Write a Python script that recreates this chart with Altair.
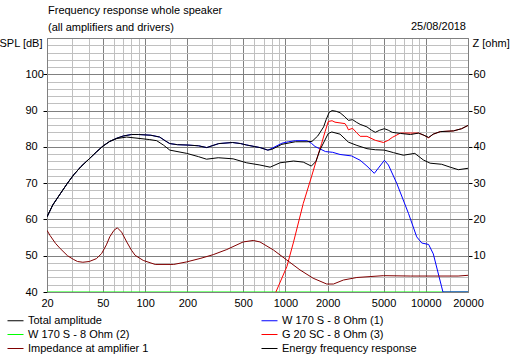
import altair as alt
import pandas as pd

# ---------------- data ----------------
# legend is filled column by column: column 1 then column 2
names = ["Total amplitude", "W 170 S - 8 Ohm (2)", "Impedance at amplifier 1",
         "W 170 S - 8 Ohm (1)", "G 20 SC - 8 Ohm (3)", "Energy frequency response"]
colors = ["#000000", "#00ff00", "#800000", "#0000ff", "#ff0000", "#000000"]

title_lines = ["Frequency response whole speaker", "(all amplifiers and drivers)"]
date_text = "25/08/2018"

grid_freqs = [20, 30, 40, 50, 60, 70, 80, 90, 100, 150, 200, 300, 400, 500, 600, 700, 800, 900,
              1000, 1500, 2000, 3000, 4000, 5000, 6000, 7000, 8000, 9000, 10000, 15000, 20000]
label_freqs = [20, 50, 100, 200, 500, 1000, 2000, 5000, 10000, 20000]
spl_grid = list(range(40, 112, 2))
z_ticks = [10, 20, 30, 40, 50, 60]

total_f = [20, 22, 25, 28, 31, 35, 40, 45, 50, 56, 63, 70, 80, 90, 100, 110, 127, 140, 150, 170,
           200, 240, 275, 300, 335, 420, 480, 530, 600, 660, 750, 800, 944, 1178, 1424, 1546, 1700,
           1872, 1950, 2050, 2150, 2300, 2450, 2650, 2810, 3010, 3200, 3410, 3810, 4100, 4370, 4700,
           5070, 5400, 5770, 6600, 7790, 8900, 9700, 10480, 11300, 12700, 15760, 18000, 20000]
total_db = [60.7, 64.0, 67.2, 70.0, 72.3, 74.6, 76.7, 78.6, 80.2, 81.5, 82.4, 83.0, 83.4, 83.4, 83.3,
            83.2, 82.7, 81.6, 80.9, 80.6, 80.5, 80.3, 79.8, 80.3, 80.9, 81.2, 80.9, 80.5, 80.1, 79.8,
            79.1, 79.3, 80.7, 81.4, 81.4, 81.5, 83.0, 85.5, 87.5, 89.5, 90.0, 89.8, 89.4, 88.3, 87.3,
            87.5, 86.8, 86.2, 85.5, 84.6, 84.0, 84.6, 85.0, 84.6, 84.0, 83.7, 83.4, 83.8, 83.2, 82.6,
            83.5, 84.2, 84.4, 85.0, 85.9]

energy_f = [20, 22, 25, 28, 31, 35, 40, 45, 50, 56, 63, 74, 92, 108, 121, 135, 150, 198, 240, 274,
            332, 424, 530, 658, 778, 914, 1143, 1340, 1530, 1650, 1760, 2020, 2140, 2450, 2810, 3230,
            3810, 4370, 5070, 5900, 6920, 8360, 9600, 10740, 12980, 14940, 17070, 20000]
energy_db = [60.7, 64.0, 67.2, 70.0, 72.3, 74.6, 76.7, 78.6, 80.2, 81.5, 82.3, 82.7, 82.3, 82.0,
             81.7, 80.5, 79.1, 78.2, 77.3, 76.6, 77.0, 76.7, 75.6, 75.0, 74.4, 75.6, 76.1, 75.8,
             74.7, 76.0, 79.1, 83.7, 84.1, 83.5, 81.3, 80.4, 79.5, 79.2, 79.1, 78.4, 77.7, 78.2,
             76.4, 75.5, 75.2, 74.4, 73.7, 74.1]

woofer1_f = [20, 22, 25, 28, 31, 35, 40, 45, 50, 56, 63, 70, 80, 90, 100, 110, 127, 140, 150, 170,
             200, 240, 275, 300, 335, 420, 480, 530, 600, 660, 750, 802, 944, 1050, 1178, 1424, 1530,
             1626, 1930, 2170, 2450, 2960, 3410, 3810, 4300, 5074, 5420, 6220, 7540, 8620, 9360,
             10480, 11320, 12980, 13260, 20000]
woofer1_db = [60.7, 64.0, 67.2, 70.0, 72.3, 74.6, 76.7, 78.6, 80.2, 81.5, 82.4, 83.0, 83.4, 83.4,
              83.3, 83.2, 82.7, 81.6, 80.9, 80.6, 80.5, 80.3, 79.8, 80.3, 80.9, 81.2, 80.9, 80.5,
              80.1, 79.8, 79.1, 79.6, 81.0, 81.4, 81.7, 81.7, 81.0, 80.1, 78.7, 78.5, 77.9, 77.5,
              76.3, 74.7, 72.7, 76.3, 75.0, 69.9, 61.6, 55.2, 53.5, 53.1, 50.5, 41.4, 40.0, 40.0]

woofer2_f = [20, 20000]
woofer2_db = [40.0, 40.0]

tweeter_f = [855, 1024, 1143, 1340, 1532, 1662, 1810, 1920, 2020, 2150, 2256, 2660, 2750, 2810,
             3010, 3200, 3410, 3810, 4370, 5000, 5400, 5770, 6600, 7790, 8900, 9700, 10480, 11300,
             12700, 15760, 18000, 20000]
tweeter_db = [40.0, 47.0, 53.8, 64.4, 71.7, 76.3, 80.9, 84.3, 87.0, 87.2, 86.8, 86.4, 85.5, 84.7,
              85.1, 84.0, 82.9, 82.9, 81.8, 81.2, 81.8, 82.6, 83.8, 83.8, 83.8, 83.2, 82.5, 83.5,
              84.2, 84.4, 85.0, 85.9]

imp_f = [20, 21, 23, 24.8, 28, 30.8, 33, 36, 40, 45, 49, 53, 56, 60, 63.4, 68, 74, 80, 85, 97, 118,
         160, 198, 250, 306, 382, 500, 590, 658, 820, 1024, 1268, 1575, 1970, 2200, 2590, 3230,
         5000, 7800, 17000, 20000]
imp_ohm = [17.0, 15.6, 13.4, 12.0, 10.0, 9.0, 8.4, 8.2, 8.4, 9.2, 10.6, 13.0, 15.2, 17.0, 17.7,
           16.5, 13.8, 11.5, 10.1, 8.7, 7.6, 7.6, 8.3, 9.3, 10.3, 11.7, 13.8, 14.2, 13.8, 11.6, 8.8,
           6.1, 3.8, 2.2, 2.2, 3.3, 4.0, 4.5, 4.4, 4.4, 4.6]


def frame(fs, vs, name):
    return pd.DataFrame({"f": fs, "v": vs, "series": name})


# ---------------- encodings ----------------
FONT = "Liberation Sans"
DARK = "#808080"
LIGHT = "#c0c0c0"

major_x = "indexof([50,100,200,500,1000,2000,5000,10000], datum.value) >= 0"
label_x = "indexof([20,50,100,200,500,1000,2000,5000,10000,20000], datum.value) >= 0"

x_axis = alt.Axis(values=grid_freqs, grid=True,
                  gridColor={"condition": {"test": major_x, "value": DARK}, "value": LIGHT},
                  labelExpr=label_x + " ? '' + datum.value : ''",
                  ticks=False, tickSize=0, labelPadding=5, labelOverlap=False,
                  labelFlush=False, title=None, domainColor=DARK)
x_enc = alt.X("f:Q", scale=alt.Scale(type="log", domain=[20, 20000], nice=False), axis=x_axis)

y_major = "datum.value % 10 == 0"
y_label = "datum.value % 10 == 0 && datum.value <= 100"
y_axis = alt.Axis(values=spl_grid, grid=True,
                  gridColor={"condition": {"test": y_major, "value": DARK}, "value": LIGHT},
                  labelExpr=y_label + " ? datum.label : ''",
                  tickOpacity={"condition": {"test": y_label, "value": 1}, "value": 0},
                  tickColor="black", tickSize=4, labelAlign="left", labelPadding=18,
                  labelBaseline="middle", labelOverlap=False, labelFlush=False,
                  title="SPL [dB]", titleAngle=0, titleAlign="right", titleBaseline="middle",
                  titleX=-5, titleY=5, domainColor=DARK)
y_enc = alt.Y("v:Q", scale=alt.Scale(domain=[40, 110], nice=False, zero=False), axis=y_axis)

z_axis = alt.Axis(orient="right", values=z_ticks, grid=False, tickColor="black", tickSize=4,
                  labelPadding=1, labelAlign="left", labelBaseline="middle", labelOverlap=False,
                  labelFlush=False, title="Z [ohm]", titleAngle=0, titleAlign="left",
                  titleBaseline="middle", titleX=4, titleY=5, domainColor=DARK)
z_enc = alt.Y("v:Q", scale=alt.Scale(domain=[0, 70], nice=False, zero=False), axis=z_axis)

legend = alt.Legend(orient="none", legendX=-40, legendY=274, columns=2, columnPadding=110,
                    title=None, symbolType="stroke", symbolSize=256, symbolStrokeWidth=1,
                    labelOffset=4, rowPadding=-2, labelFontSize=11, labelColor="black",
                    labelFont=FONT)
c_enc = alt.Color("series:N", scale=alt.Scale(domain=names, range=colors), legend=legend)


def line(df):
    return alt.Chart(df).mark_line(strokeWidth=1, clip=True, interpolate="linear").encode(
        x=x_enc, y=y_enc, color=c_enc)


green = line(frame(woofer2_f, woofer2_db, "W 170 S - 8 Ohm (2)"))
blue = line(frame(woofer1_f, woofer1_db, "W 170 S - 8 Ohm (1)"))
red = line(frame(tweeter_f, tweeter_db, "G 20 SC - 8 Ohm (3)"))
total = line(frame(total_f, total_db, "Total amplitude"))
energy = line(frame(energy_f, energy_db, "Energy frequency response"))

date_layer = alt.Chart(pd.DataFrame({"t": [date_text]})).mark_text(
    align="right", baseline="middle", fontSize=11, font=FONT, color="black").encode(
    x=alt.value(419), y=alt.value(-11), text="t:N")

spl = alt.layer(green, blue, red, total, energy, date_layer)

imp = alt.Chart(frame(imp_f, imp_ohm, "Impedance at amplifier 1")).mark_line(
    strokeWidth=1, clip=True).encode(x=x_enc, y=z_enc, color=c_enc)

chart = alt.layer(spl, imp).resolve_scale(y="independent").properties(
    width=421, height=254,
    autosize=alt.AutoSizeParams(type="none"),
    padding={"left": 47, "top": 38, "right": 49, "bottom": 64},
    background="white",
    title=alt.TitleParams(text=title_lines, anchor="start", frame="group", fontSize=11,
                          fontWeight="normal", font=FONT, color="black", lineHeight=17,
                          offset=5, baseline="bottom", dx=1, dy=28),
).configure(font=FONT).configure_axis(
    labelFontSize=11, labelColor="black", titleFontSize=11, titleFontWeight="normal",
    titleColor="black", labelFont=FONT, titleFont=FONT
).configure_view(stroke=DARK)

chart.save("out.html", embed_options={"renderer": "svg", "actions": False})
